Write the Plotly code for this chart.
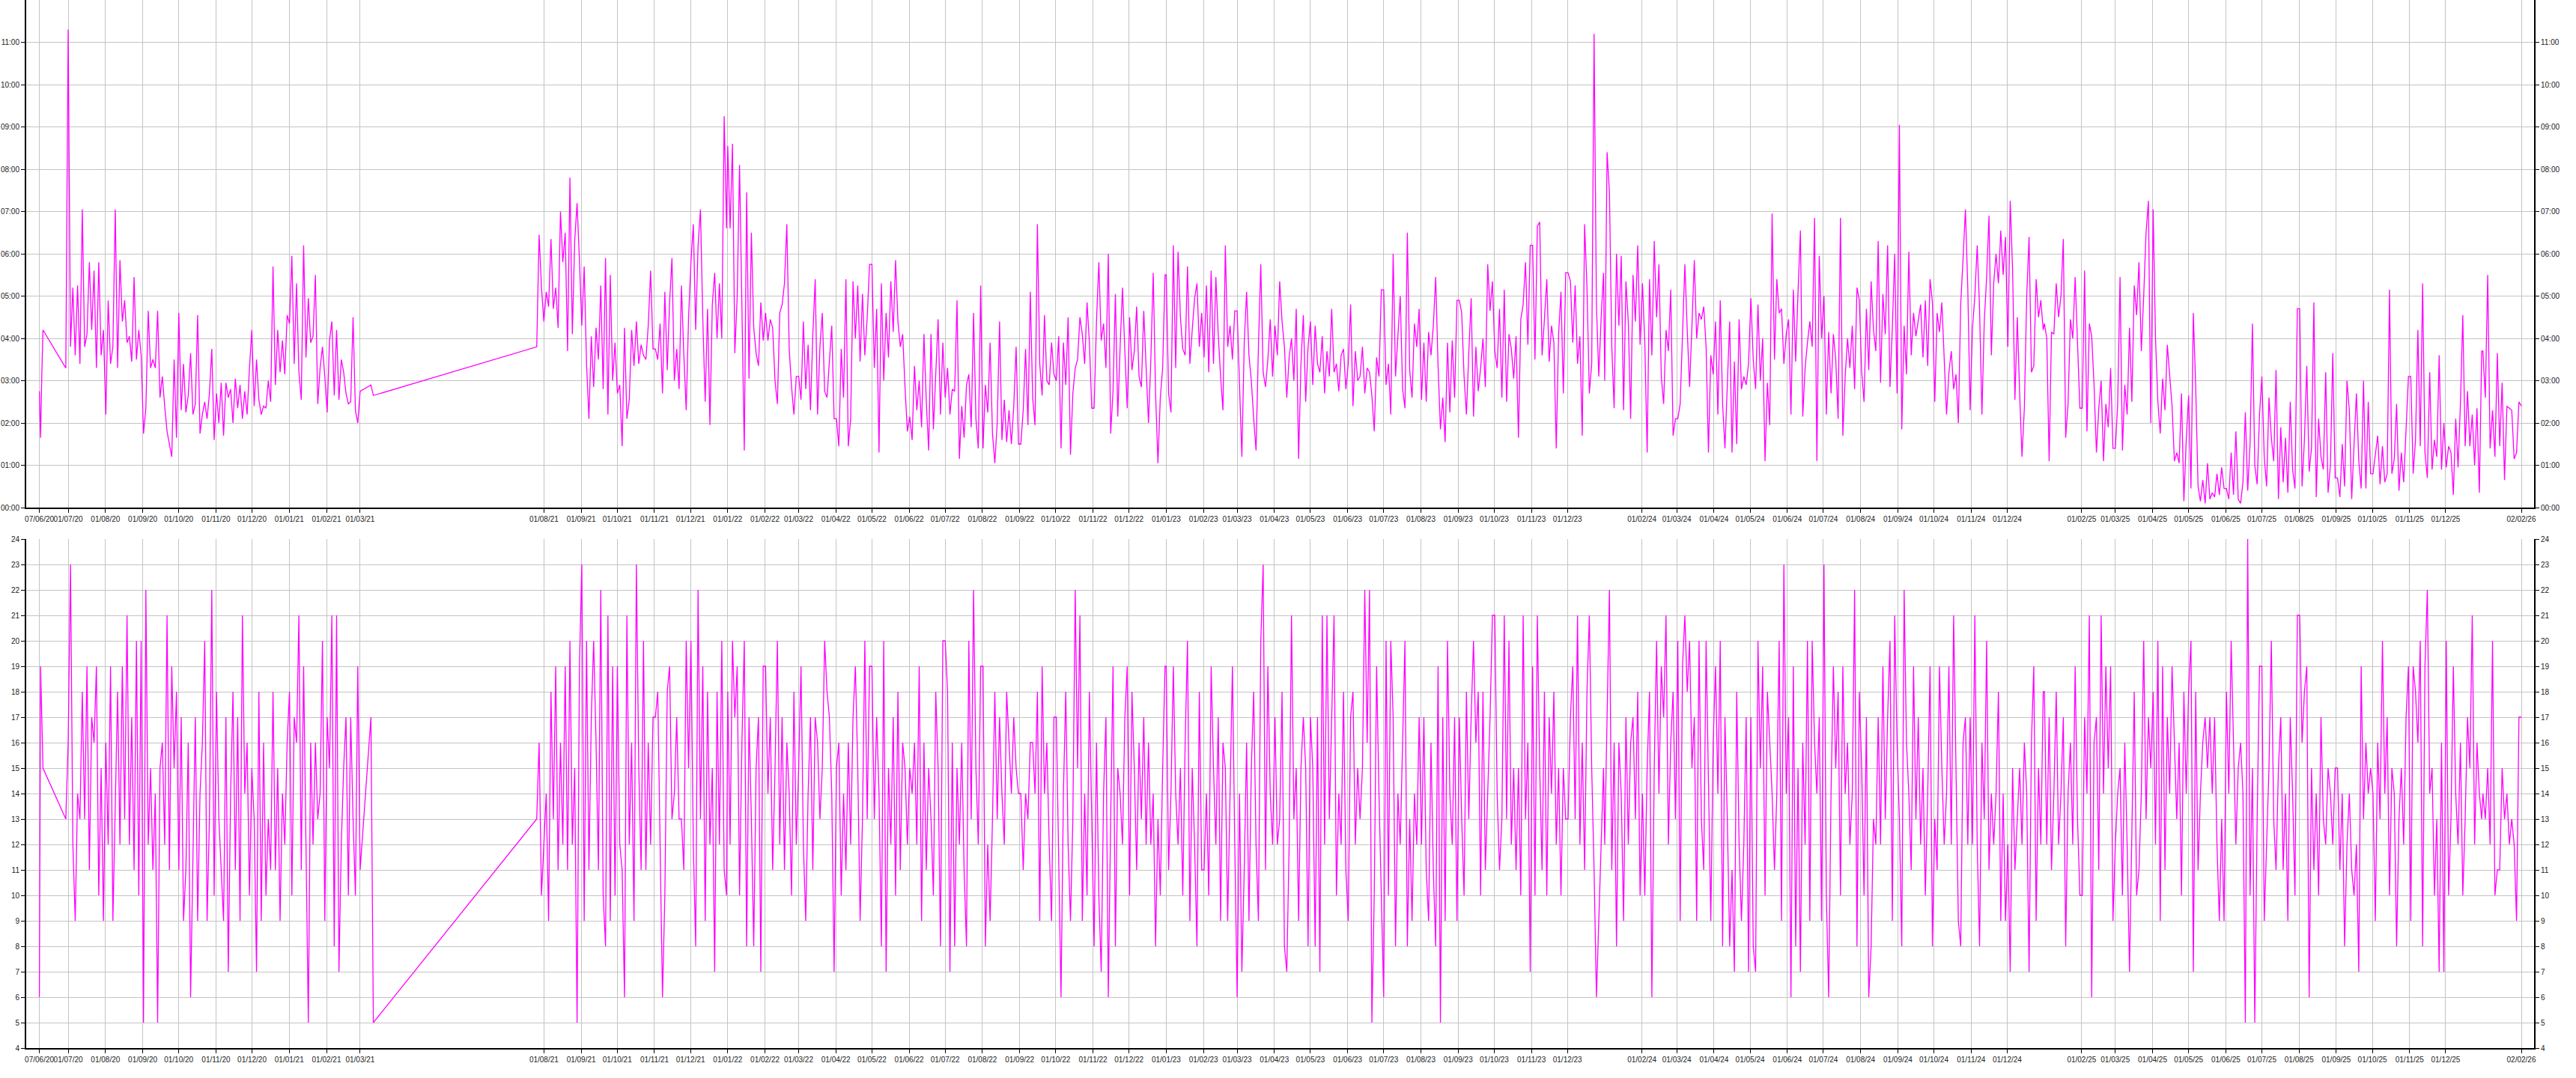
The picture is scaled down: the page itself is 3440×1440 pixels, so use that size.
import pandas as pd
import plotly.graph_objects as go

# ---------------- tick labels (dd/mm/yy) ----------------
tick_labels = [
    "07/06/20", "01/07/20", "01/08/20", "01/09/20", "01/10/20", "01/11/20", "01/12/20",
    "01/01/21", "01/02/21", "01/03/21",
    "01/08/21", "01/09/21", "01/10/21", "01/11/21", "01/12/21",
    "01/01/22", "01/02/22", "01/03/22", "01/04/22", "01/05/22", "01/06/22",
    "01/07/22", "01/08/22", "01/09/22", "01/10/22", "01/11/22", "01/12/22",
    "01/01/23", "01/02/23", "01/03/23", "01/04/23", "01/05/23", "01/06/23",
    "01/07/23", "01/08/23", "01/09/23", "01/10/23", "01/11/23", "01/12/23",
    "01/02/24", "01/03/24", "01/04/24", "01/05/24", "01/06/24",
    "01/07/24", "01/08/24", "01/09/24", "01/10/24", "01/11/24", "01/12/24",
    "01/02/25", "01/03/25", "01/04/25", "01/05/25", "01/06/25",
    "01/07/25", "01/08/25", "01/09/25", "01/10/25", "01/11/25", "01/12/25",
    "02/02/26",
]
upper_tick_hours = list(range(0, 12))
lower_tick_values = list(range(4, 25))

# ---------------- periods (first and last date of each block) ----------------
span_2020a = ("2020-06-07", "2020-06-10")
span_2020b = ("2020-06-29", "2021-03-01")
span_2021a = ("2021-03-10", "2021-03-12")
span_2021b = ("2021-07-26", "2021-12-31")
span_2022 = ("2022-01-01", "2022-12-31")
span_2023 = ("2023-01-01", "2023-12-31")
span_2024 = ("2024-01-01", "2024-12-31")
span_2025 = ("2025-01-01", "2025-12-31")
span_2026 = ("2026-01-01", "2026-02-02")

# ---------------- upper series (hours) ----------------
upper_2020a = [2.75, 1.65, 3.1, 4.2]
upper_2020b = [3.3,
    11.3, 3.8, 5.2, 3.6, 5.25, 3.4, 7.05, 3.8, 4.1, 5.8, 4.2, 5.6, 3.3, 5.8, 3.6, 4.2,
    2.2, 4.9, 3.4, 3.8, 7.05, 3.3, 5.85, 4.4, 4.9, 3.9, 4.05, 3.45, 5.45, 3.5, 4.2, 3.6,
    1.75, 2.35, 4.65, 3.3, 3.5, 3.3, 4.65, 2.6, 3.1, 2.4, 1.8, 1.5, 1.2, 3.5, 1.65,
    4.6, 2.3, 3.4, 2.25, 2.65, 3.65, 2.2, 2.45, 4.55, 1.75, 2.2, 2.5, 2.1, 2.7, 3.75, 1.6,
    2.7, 2.0, 2.95, 1.7, 2.95, 2.6, 2.8, 2.0, 3.05, 2.35, 2.9, 2.1, 2.75, 2.2, 3.3,
    4.2, 2.4, 3.5, 2.55, 2.2, 2.4, 2.35, 3.0, 2.5, 5.7, 2.9, 4.2, 3.2, 3.95, 3.15, 4.55,
    4.35, 5.95, 3.4, 5.3, 3.2, 2.55, 6.2, 3.55, 4.95, 3.9, 4.05, 5.5, 2.45, 3.3, 3.8, 3.1,
    2.25, 3.95, 4.4, 2.65, 4.2, 2.55, 3.5, 3.2, 2.7, 2.45, 2.5, 4.5, 2.3, 2.0,
    2.75]
upper_2021a = [2.9, 2.65]
upper_2021b = [3.8, 6.45, 5.2,
    4.4, 5.1, 4.75, 6.35, 4.7, 5.2, 4.25, 7.0, 5.8, 6.5, 3.7, 7.8, 4.1, 6.3, 7.2, 5.85,
    4.3, 5.7, 3.4, 2.1, 4.05, 2.85, 4.25, 3.5, 5.25, 2.8, 5.9, 2.2, 5.5, 3.0, 3.9,
    2.7, 2.9, 1.45, 4.25, 2.1, 2.55, 4.2, 3.35, 4.4, 3.4, 3.85, 3.6, 3.5, 4.3, 5.6, 3.75,
    3.75, 3.5, 4.35, 2.7, 5.1, 3.25, 4.85, 5.9, 3.0, 3.75, 2.8, 5.25, 3.6, 2.3, 4.5,
    5.8, 6.7, 4.2, 6.2, 7.05, 4.45, 2.5, 4.7, 1.95, 4.8, 5.55, 4.0, 5.3, 4.0, 9.25, 6.6]
upper_2022 = [
    8.55, 6.6, 8.6, 3.65, 5.0, 8.1, 4.75, 1.35, 7.45, 3.05, 6.5, 4.25, 3.65, 3.35, 4.85, 3.95,
    4.6, 3.95, 4.45, 4.25, 3.0, 2.45, 4.6, 4.8, 5.3, 6.7, 3.75, 2.85, 2.2, 3.1,
    3.1, 2.55, 4.4, 2.8, 3.85, 2.3, 4.1, 5.4, 2.2, 3.8, 4.6, 2.75, 2.6, 3.5, 4.3, 2.1,
    2.1, 1.45, 3.75, 2.6, 5.4, 1.45, 2.1, 5.35, 4.0, 5.25, 3.45, 5.05, 3.6, 4.5, 5.75,
    5.75, 3.3, 4.7, 1.3, 5.3, 3.0, 4.6, 3.55, 5.35, 4.15, 5.85, 4.4, 3.8, 4.1, 2.85, 1.8,
    2.15, 1.6, 3.35, 2.3, 3.0, 1.9, 4.1, 2.5, 1.35, 4.1, 1.85, 3.3, 4.45, 2.2, 3.9,
    2.6, 3.3, 2.2, 2.8, 2.75, 4.9, 1.15, 2.4, 1.65, 2.9, 3.15, 1.9, 4.6, 2.1, 1.4, 5.25,
    1.4, 2.9, 2.25, 3.9, 1.75, 1.05, 2.0, 4.4, 1.6, 2.55, 1.55, 2.3, 1.5, 2.4, 3.8, 1.5,
    1.5, 2.3, 3.75, 1.95, 5.1, 2.6, 1.95, 6.7, 3.4, 2.65, 4.55, 3.0, 2.9, 3.9, 3.15,
    3.0, 4.05, 1.4, 3.9, 2.9, 4.5, 1.25, 2.7, 3.3, 3.5, 4.5, 4.1, 3.4, 4.85, 3.9, 2.35,
    2.35, 4.4, 5.8, 3.95, 4.35, 3.3, 6.0, 1.75, 2.75, 5.05, 2.15, 3.8, 5.2, 3.7, 2.35,
    4.5, 3.25, 3.7, 4.75, 3.1, 2.85, 4.65, 3.4, 2.0, 3.5, 5.55, 2.7, 1.05, 2.6, 3.3, 5.5]
upper_2023 = [
    5.5, 2.7, 2.25, 6.2, 3.3, 6.05, 4.5, 3.75, 3.6, 5.7, 3.4, 4.2, 4.95, 5.3, 3.8, 4.6,
    3.55, 5.25, 3.2, 5.6, 3.4, 5.45, 4.1, 3.1, 2.3, 6.2, 3.8, 4.3, 3.5, 4.65,
    4.65, 2.9, 1.2, 3.9, 5.1, 3.6, 3.0, 2.1, 1.35, 3.8, 5.75, 3.2, 2.85, 3.5, 4.45, 3.1,
    4.3, 3.6, 5.35, 4.4, 3.8, 2.6, 3.55, 4.0, 3.0, 4.7, 1.15, 3.4, 4.55, 2.5, 3.8,
    4.4, 2.9, 4.3, 3.4, 3.2, 4.05, 2.7, 3.7, 3.1, 4.7, 3.2, 3.4, 2.75, 3.6, 3.75, 2.8,
    3.4, 4.8, 2.4, 3.7, 3.0, 3.1, 3.8, 2.7, 3.3, 3.2, 2.65, 1.8, 3.55, 3.1, 5.15,
    5.15, 2.9, 3.4, 2.2, 6.0, 3.1, 4.0, 5.0, 2.8, 2.35, 6.5, 3.25, 2.6, 4.35, 3.8, 4.7,
    2.55, 3.9, 2.5, 4.15, 3.6, 4.3, 5.45, 3.35, 1.85, 2.6, 1.55, 3.9, 2.25, 3.95, 2.6, 4.9,
    4.9, 4.6, 3.1, 2.2, 3.65, 4.95, 2.15, 3.8, 2.75, 3.3, 4.0, 2.85, 5.75, 4.65, 5.35,
    3.7, 3.3, 4.7, 2.6, 5.15, 2.5, 4.1, 3.75, 3.05, 4.05, 1.65, 4.45, 4.8, 5.8, 3.85, 6.2,
    6.2, 3.5, 6.65, 6.75, 3.6, 4.45, 5.4, 3.45, 4.3, 3.9, 1.4, 4.1, 5.1, 2.7, 5.55,
    5.55, 5.35, 3.9, 5.25, 3.4, 4.05, 1.7, 6.7, 5.2, 2.7, 3.4, 11.2, 4.8, 3.1, 4.5, 5.55]
upper_2024 = [
    3.0, 8.4, 7.45, 3.8, 2.35, 6.0, 4.3, 5.95, 2.3, 5.35, 4.4, 2.1, 5.5, 4.4, 6.2, 3.85,
    5.3, 3.9, 1.3, 5.4, 3.6, 6.3, 4.5, 5.75, 3.1, 2.45, 4.2, 3.7, 5.15, 1.7, 2.1,
    2.1, 2.45, 4.1, 5.75, 4.2, 2.85, 4.3, 5.85, 4.0, 4.6, 4.45, 4.75, 3.8, 1.3, 3.6, 3.15,
    4.4, 2.2, 4.9, 2.45, 1.4, 3.1, 4.4, 1.3, 3.45, 1.5, 4.45, 2.8, 3.1, 2.9, 3.4,
    4.95, 3.5, 2.8, 4.8, 3.0, 4.0, 1.1, 2.95, 1.95, 6.95, 3.5, 5.4, 4.6, 4.7, 3.4, 4.1,
    4.45, 2.2, 5.15, 3.45, 5.1, 6.55, 2.15, 3.3, 3.9, 4.4, 3.8, 6.85, 1.1, 5.95, 4.0,
    5.0, 2.2, 4.15, 2.7, 4.1, 3.5, 2.1, 6.85, 1.7, 3.1, 4.0, 3.3, 4.3, 2.8, 5.2, 4.9,
    3.2, 2.5, 4.7, 3.25, 5.35, 4.2, 3.7, 6.3, 2.95, 5.05, 4.1, 6.2, 2.85, 4.25, 6.0, 2.7,
    9.05, 1.85, 4.3, 3.15, 6.05, 3.6, 4.6, 4.05, 4.45, 4.8, 3.55, 4.9, 3.35, 5.4, 4.85,
    2.5, 4.6, 4.15, 4.85, 3.4, 2.2, 3.2, 3.7, 2.8, 3.15, 2.0, 4.8, 5.9, 7.05, 5.2, 2.3,
    4.25, 5.0, 6.2, 4.7, 2.2, 4.4, 5.45, 6.9, 3.6, 5.3, 6.0, 5.3, 6.55, 5.5, 6.4,
    3.8, 7.25, 5.65, 2.55, 4.5, 2.7, 1.2, 2.35, 5.0, 6.4, 3.2, 3.35, 5.4, 4.5, 4.9, 4.2]
upper_2025 = [
    4.35, 4.0, 1.1, 4.15, 4.1, 5.3, 4.5, 5.0, 6.35, 1.65, 2.45, 4.45, 4.0, 5.45, 3.7, 2.35,
    2.35, 5.6, 1.8, 4.35, 4.05, 2.9, 1.3, 2.35, 3.0, 1.1, 2.45, 1.9, 3.3, 1.4,
    1.4, 2.45, 5.45, 1.35, 2.9, 2.2, 4.25, 2.5, 5.25, 4.55, 5.8, 3.7, 5.0, 6.5, 7.25, 2.0,
    7.05, 4.0, 2.5, 1.75, 3.05, 2.3, 3.85, 3.2, 2.4, 1.1, 1.3, 1.05, 2.7, 0.15, 1.6,
    2.65, 0.45, 4.6, 2.85, 0.5, 0.15, 0.65, 0.1, 1.05, 0.2, 0.35, 0.25, 0.8, 0.3, 0.95, 0.45,
    0.45, 0.2, 1.3, 0.3, 1.8, 0.2, 0.1, 0.6, 2.25, 0.4, 1.5, 4.35, 1.0, 0.55, 2.2,
    3.1, 1.2, 0.5, 2.6, 1.65, 1.1, 3.25, 0.2, 1.9, 0.6, 1.65, 0.35, 2.5, 0.9, 0.45, 4.7,
    4.7, 0.5, 1.6, 3.35, 0.85, 1.4, 4.85, 0.25, 2.1, 1.2, 0.9, 3.2, 0.35, 1.0, 3.65, 0.7,
    0.7, 0.25, 1.5, 0.5, 3.0, 2.3, 0.2, 1.5, 2.7, 1.1, 0.45, 3.0, 0.45, 2.5, 0.8,
    0.8, 1.25, 1.7, 0.55, 1.45, 0.6, 0.8, 5.15, 0.8, 1.15, 2.45, 0.4, 1.3, 0.6, 1.9, 3.1,
    3.1, 0.8, 1.6, 4.2, 1.45, 5.3, 1.3, 0.7, 3.2, 0.9, 1.6, 1.2, 3.6, 0.9, 2.0,
    0.95, 1.45, 1.3, 0.3, 2.1, 0.95, 2.45, 4.55, 1.45, 2.75, 1.45, 2.2, 1.0, 2.35, 0.35, 3.7]
upper_2026 = [3.7, 2.6, 5.5, 1.4, 2.3, 1.2, 3.65, 1.45, 2.95, 0.65, 2.4, 2.35, 2.3, 1.15, 1.3, 2.5, 2.4]

# ---------------- lower series (integer values) ----------------
lower_2020a = [6, 19, 17, 15]
lower_2020b = [13,
    16, 23, 12, 9, 14, 13, 18, 13, 19, 11, 17, 16, 19, 10, 15, 9,
    16, 12, 19, 9, 14, 18, 12, 19, 13, 21, 12, 17, 11, 20, 10, 20,
    5, 22, 12, 15, 11, 14, 5, 15, 16, 12, 21, 11, 19, 15, 18,
    11, 17, 9, 11, 16, 6, 11, 17, 9, 14, 16, 20, 9, 13, 22, 10,
    18, 13, 11, 9, 17, 7, 14, 18, 11, 17, 9, 21, 14, 16, 10,
    15, 13, 7, 18, 9, 16, 10, 13, 11, 18, 11, 15, 9, 14, 12, 16,
    18, 10, 17, 16, 21, 11, 19, 12, 5, 16, 12, 16, 13, 14, 20, 9,
    17, 15, 21, 8, 21, 7, 12, 15, 17, 10, 17, 13, 10, 19,
    11]
lower_2021a = [17, 5]
lower_2021b = [13, 16, 10,
    12, 14, 9, 18, 13, 19, 11, 16, 12, 19, 11, 20, 12, 15, 5, 19,
    23, 9, 20, 11, 17, 20, 16, 11, 22, 10, 8, 21, 9, 19, 10,
    19, 12, 11, 6, 21, 12, 16, 9, 23, 15, 11, 20, 11, 16, 12, 17,
    17, 18, 12, 6, 10, 18, 19, 13, 14, 17, 13, 13, 11, 20, 15,
    20, 12, 8, 22, 13, 19, 9, 18, 12, 15, 7, 18, 12, 20, 11, 10]
lower_2022 = [
    18, 12, 20, 17, 19, 10, 16, 20, 8, 17, 13, 8, 15, 17, 7, 19,
    19, 14, 17, 11, 15, 20, 12, 17, 11, 16, 14, 10, 18, 12,
    15, 19, 12, 9, 14, 17, 11, 17, 16, 13, 15, 20, 18, 17, 14, 7,
    15, 16, 10, 14, 11, 16, 12, 17, 19, 15, 9, 13, 20, 13, 19,
    19, 13, 17, 14, 8, 20, 7, 15, 12, 17, 10, 18, 11, 16, 15, 12,
    15, 14, 16, 12, 19, 9, 16, 11, 15, 13, 10, 18, 15, 8, 20,
    20, 18, 7, 16, 8, 15, 12, 16, 11, 8, 20, 13, 22, 15, 12, 19,
    19, 8, 12, 9, 13, 18, 13, 17, 14, 12, 18, 16, 14, 17, 15, 14,
    14, 11, 14, 13, 16, 16, 14, 18, 9, 19, 14, 16, 12, 9, 17,
    17, 12, 6, 14, 18, 12, 9, 13, 22, 15, 21, 9, 14, 10, 18, 13,
    8, 16, 10, 7, 14, 17, 6, 13, 19, 8, 15, 14, 12, 17, 19,
    10, 18, 15, 11, 16, 13, 17, 12, 16, 12, 14, 8, 13, 10, 15, 19]
lower_2023 = [
    19, 11, 14, 19, 14, 12, 15, 10, 16, 20, 9, 15, 12, 8, 18, 11,
    11, 14, 10, 19, 15, 12, 17, 9, 16, 15, 9, 14, 19, 12,
    6, 14, 7, 11, 16, 9, 15, 18, 12, 9, 20, 23, 11, 19, 14, 12,
    17, 12, 13, 18, 8, 7, 12, 21, 13, 15, 9, 15, 17, 15, 8,
    17, 15, 8, 17, 7, 21, 12, 21, 13, 17, 21, 10, 14, 12, 18, 11,
    9, 17, 18, 12, 15, 13, 15, 22, 16, 22, 5, 10, 19, 14, 10,
    6, 20, 10, 20, 17, 8, 14, 12, 16, 20, 8, 13, 9, 14, 12, 17,
    12, 17, 11, 9, 16, 11, 8, 19, 5, 17, 9, 20, 14, 12, 17, 9,
    17, 13, 10, 18, 13, 17, 20, 16, 18, 10, 18, 11, 14, 17, 21,
    21, 14, 11, 13, 21, 13, 20, 12, 15, 11, 15, 10, 21, 13, 16, 7,
    19, 10, 21, 15, 11, 18, 10, 17, 14, 18, 12, 15, 10, 15, 13,
    13, 17, 19, 13, 21, 12, 16, 11, 18, 21, 15, 11, 6, 9, 12, 15]
lower_2024 = [
    12, 17, 22, 11, 16, 8, 16, 14, 9, 17, 12, 16, 17, 13, 18, 10,
    14, 10, 15, 18, 6, 15, 20, 14, 19, 17, 21, 12, 16, 18, 13,
    20, 9, 19, 21, 18, 20, 15, 17, 9, 20, 13, 11, 20, 15, 9, 16,
    19, 14, 20, 8, 17, 13, 8, 11, 7, 18, 12, 9, 12, 17, 7,
    17, 8, 7, 20, 15, 19, 10, 18, 16, 14, 11, 14, 20, 9, 23, 14,
    17, 6, 19, 8, 15, 7, 16, 12, 20, 9, 20, 16, 14, 17, 9,
    23, 10, 6, 14, 19, 15, 18, 10, 19, 14, 16, 12, 14, 22, 8, 18,
    15, 10, 17, 6, 8, 13, 12, 17, 12, 19, 13, 17, 20, 9, 21, 16,
    13, 8, 22, 16, 14, 11, 19, 13, 17, 12, 15, 10, 14, 19, 8,
    13, 11, 19, 15, 12, 14, 19, 12, 21, 15, 9, 8, 16, 17, 12, 17,
    12, 21, 12, 8, 16, 13, 20, 11, 14, 12, 14, 18, 9, 14, 9,
    12, 7, 15, 11, 13, 15, 12, 16, 14, 7, 16, 19, 9, 15, 12, 18]
lower_2025 = [
    18, 12, 17, 11, 14, 18, 12, 14, 17, 8, 14, 16, 12, 19, 13, 10,
    10, 17, 14, 21, 6, 16, 17, 11, 21, 14, 19, 15, 19, 9,
    12, 14, 15, 10, 16, 12, 7, 13, 18, 10, 11, 14, 20, 13, 17, 15,
    18, 12, 20, 9, 19, 11, 17, 14, 19, 16, 13, 16, 10, 18, 14,
    18, 20, 7, 18, 11, 14, 16, 17, 15, 17, 14, 17, 12, 9, 13, 9,
    18, 14, 20, 16, 12, 15, 16, 14, 5, 24, 10, 15, 5, 13, 19,
    19, 9, 12, 15, 20, 13, 11, 15, 17, 11, 14, 9, 17, 14, 10, 21,
    21, 16, 18, 19, 6, 15, 11, 14, 10, 17, 13, 12, 15, 14, 12, 15,
    15, 11, 14, 8, 12, 14, 11, 10, 12, 7, 19, 13, 16, 14, 15,
    14, 9, 16, 13, 20, 14, 17, 10, 15, 14, 8, 13, 15, 12, 17, 19,
    9, 19, 18, 16, 20, 8, 19, 22, 14, 15, 10, 13, 7, 16, 7,
    20, 10, 13, 19, 14, 12, 16, 10, 13, 17, 15, 21, 12, 16, 14, 13]
lower_2026 = [14, 13, 15, 12, 20, 10, 11, 11, 15, 13, 14, 12, 13, 12, 9, 17, 17]

# ---------------- assemble ----------------
upper_blocks = [(span_2020a, upper_2020a), (span_2020b, upper_2020b), (span_2021a, upper_2021a),
                (span_2021b, upper_2021b), (span_2022, upper_2022), (span_2023, upper_2023),
                (span_2024, upper_2024), (span_2025, upper_2025), (span_2026, upper_2026)]
lower_blocks = [(span_2020a, lower_2020a), (span_2020b, lower_2020b), (span_2021a, lower_2021a),
                (span_2021b, lower_2021b), (span_2022, lower_2022), (span_2023, lower_2023),
                (span_2024, lower_2024), (span_2025, lower_2025), (span_2026, lower_2026)]


def build(blocks):
    xs, ys = [], []
    for (start, end), vals in blocks:
        xs.extend(pd.date_range(start, end, periods=len(vals)))
        ys.extend(vals)
    return xs, ys


x_up, y_up = build(upper_blocks)
x_lo, y_lo = build(lower_blocks)

tick_dates = [pd.to_datetime(t, format="%d/%m/%y") for t in tick_labels]
x_range = ["2020-05-27 01:00", "2026-02-12 14:00"]

FONT = dict(family="Liberation Sans, Arial, sans-serif", size=10, color="#222222")
GRID = "#c4c4c4"
LINE = "#ff00ff"
LINE_W = 1.3

fig = go.Figure()
fig.add_trace(go.Scatter(x=x_up, y=y_up, mode="lines", line=dict(color=LINE, width=LINE_W),
                         xaxis="x", yaxis="y", showlegend=False, hoverinfo="skip"))
fig.add_trace(go.Scatter(x=x_lo, y=y_lo, mode="lines", line=dict(color=LINE, width=LINE_W),
                         xaxis="x2", yaxis="y2", showlegend=False, hoverinfo="skip"))
fig.add_trace(go.Scatter(x=[None], y=[None], xaxis="x", yaxis="y3", showlegend=False))
fig.add_trace(go.Scatter(x=[None], y=[None], xaxis="x2", yaxis="y4", showlegend=False))

xcommon = dict(type="date", range=x_range, tickvals=tick_dates, ticktext=tick_labels,
               tickangle=0, ticks="outside", ticklen=5, tickwidth=1, tickcolor="#000",
               showline=True, linecolor="#000", linewidth=2, showgrid=True,
               gridcolor=GRID, gridwidth=1, zeroline=False, tickfont=FONT, domain=[0, 1])
up_text = ["%02d:00" % h for h in upper_tick_hours]
ycommon = dict(ticks="outside", ticklen=5, tickwidth=1, tickcolor="#000", showline=True,
               linecolor="#000", linewidth=2, zeroline=False, tickfont=FONT)

fig.update_layout(
    width=3440, height=1440,
    margin=dict(l=35, r=56, t=0, b=40, pad=0, autoexpand=False),
    paper_bgcolor="white", plot_bgcolor="white",
    xaxis=dict(anchor="y", **xcommon),
    xaxis2=dict(anchor="y2", **xcommon),
    yaxis=dict(domain=[0.5157, 1.0], range=[0, 12], tickvals=upper_tick_hours, ticktext=up_text,
               showgrid=True, gridcolor=GRID, gridwidth=1, anchor="x", **ycommon),
    yaxis3=dict(overlaying="y", side="right", anchor="x", range=[0, 12],
                tickvals=upper_tick_hours, ticktext=up_text, showgrid=False, **ycommon),
    yaxis2=dict(domain=[0.0, 0.4857], range=[4, 24], tickvals=lower_tick_values,
                showgrid=True, gridcolor=GRID, gridwidth=1, anchor="x2", **ycommon),
    yaxis4=dict(overlaying="y2", side="right", anchor="x2", range=[4, 24],
                tickvals=lower_tick_values, showgrid=False, **ycommon),
)

fig.write_html("out.html", config={"displayModeBar": False},
               post_script="document.body.style.margin='0px';"
                           "document.body.style.overflow='hidden';")
